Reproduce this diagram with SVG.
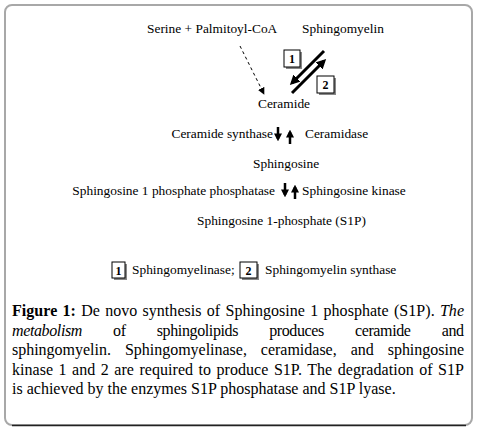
<svg xmlns="http://www.w3.org/2000/svg" width="482" height="429" viewBox="0 0 482 429">
<defs>
<style>
text{font-family:'Liberation Serif','DejaVu Serif','Noto Serif',serif;fill:#000}
.t{font-size:13.4px}
.d{font-size:12px;font-weight:bold}
.c{font-size:16px}
.thick{stroke:#000;stroke-width:3;fill:none}
.vert{stroke:#000;stroke-width:2.5;fill:none}
.box{fill:#fff;stroke:#000;stroke-width:1}
.shadow{fill:#888}
</style>
<marker id="ah" viewBox="0 0 10 10" refX="7" refY="5" markerWidth="10" markerHeight="10" orient="auto" markerUnits="userSpaceOnUse">
<path d="M0,0 L10,5 L0,10 z" fill="#000"/>
</marker>
<marker id="ahv" viewBox="0 0 10 10" refX="7" refY="5" markerWidth="8" markerHeight="8" orient="auto" markerUnits="userSpaceOnUse">
<path d="M0,0 L10,5 L0,10 z" fill="#000"/>
</marker>
<marker id="ahs" viewBox="0 0 10 10" refX="9" refY="5" markerWidth="7" markerHeight="7" orient="auto" markerUnits="userSpaceOnUse">
<path d="M0,0 L10,5 L0,10 z" fill="#000"/>
</marker>
</defs>
<rect x="0" y="0" width="482" height="429" fill="#fff"/>
<rect x="5" y="5" width="467" height="420" rx="7" fill="#fff" stroke="#a8a8a8" stroke-width="2"/>
<path d="M12,425.5 L466,425.5" stroke="#222" stroke-width="1.5"/>

<g id="connectors">
<path d="M240,46 L264,94" stroke="#000" stroke-width="1" stroke-dasharray="3,3" marker-end="url(#ahs)"/>
<path class="thick" d="M324,51 L292,83" marker-end="url(#ah)"/>
<path class="thick" d="M292,93 L324,61" marker-end="url(#ah)"/>
<path class="vert" d="M278,127 L278,139" marker-end="url(#ahv)"/>
<path class="vert" d="M290,144 L290,132" marker-end="url(#ahv)"/>
<path class="vert" d="M285,183 L285,195" marker-end="url(#ahv)"/>
<path class="vert" d="M295,199 L295,187" marker-end="url(#ahv)"/>
</g>

<g id="serine"><text class="t" x="147" y="33">Serine + Palmitoyl-CoA</text></g>
<g id="sphingomyelin"><text class="t" x="302" y="33">Sphingomyelin</text></g>
<g id="box1">
<rect class="shadow" x="286" y="52" width="16" height="17"/>
<rect class="box" x="284" y="50" width="16" height="17"/>
<text class="d" x="292" y="63" text-anchor="middle">1</text>
</g>
<g id="box2">
<rect class="shadow" x="319" y="78" width="17" height="17"/>
<rect class="box" x="317" y="76" width="17" height="17"/>
<text class="d" x="325.5" y="89" text-anchor="middle">2</text>
</g>
<g id="ceramide"><text class="t" x="258" y="108">Ceramide</text></g>
<g id="ceramide-synthase"><text class="t" x="273" y="138" text-anchor="end">Ceramide synthase</text></g>
<g id="ceramidase"><text class="t" x="305" y="138">Ceramidase</text></g>
<g id="sphingosine"><text class="t" x="253" y="168">Sphingosine</text></g>
<g id="s1p-phosphatase"><text class="t" x="275" y="195" text-anchor="end">Sphingosine 1 phosphate phosphatase</text></g>
<g id="sphingosine-kinase"><text class="t" x="302" y="195">Sphingosine kinase</text></g>
<g id="s1p"><text class="t" x="197" y="225">Sphingosine 1-phosphate (S1P)</text></g>

<g id="legend">
<rect class="shadow" x="114" y="264" width="13" height="16"/>
<rect class="box" x="112" y="262" width="13" height="16"/>
<text class="d" x="118.5" y="275" text-anchor="middle">1</text>
<text class="t" x="132" y="274">Sphingomyelinase;</text>
<rect class="shadow" x="242" y="264" width="17" height="16"/>
<rect class="box" x="240" y="262" width="17" height="16"/>
<text class="d" x="248.5" y="275" text-anchor="middle">2</text>
<text class="t" x="265" y="274">Sphingomyelin synthase</text>
</g>

<g id="caption">
<text class="c" x="12" y="316" word-spacing="1.2" textLength="452" lengthAdjust="spacing"><tspan font-weight="bold">Figure 1:</tspan> De novo synthesis of Sphingosine 1 phosphate (S1P). <tspan font-style="italic">The</tspan></text>
<text class="c" x="12" y="335.5" word-spacing="27.5" textLength="452" lengthAdjust="spacing"><tspan font-style="italic">metabolism</tspan> of sphingolipids produces ceramide and</text>
<text class="c" x="12" y="355" word-spacing="10" textLength="452" lengthAdjust="spacing">sphingomyelin. Sphingomyelinase, ceramidase, and sphingosine</text>
<text class="c" x="12" y="374.5" word-spacing="1.4" textLength="452" lengthAdjust="spacing">kinase 1 and 2 are required to produce S1P. The degradation of S1P</text>
<text class="c" x="12" y="394">is achieved by the enzymes S1P phosphatase and S1P lyase.</text>
</g>
</svg>
